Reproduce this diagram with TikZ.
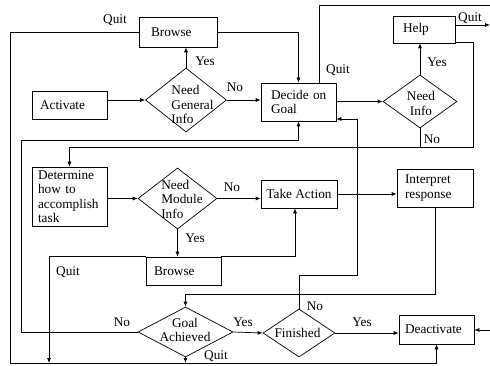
\documentclass[tikz,border=0pt]{standalone}
\usepackage{fontspec}
\setmainfont{Liberation Serif}
\usetikzlibrary{shapes.geometric,arrows.meta,calc}
\begin{document}
\begin{tikzpicture}[x=1pt,y=-1pt,
  every node/.style={font=\fontsize{13.3}{14.5}\selectfont},
  box/.style={draw, rectangle, inner ysep=0pt, align=left, line width=0.7pt},
  dia/.style={draw, diamond, inner sep=0pt, line width=0.7pt},
  dtext/.style={inner sep=0pt, font=\fontsize{13.3}{14.5}\selectfont},
  lbl/.style={inner sep=0pt},
  ln/.style={line width=0.7pt},
  arr/.style={line width=0.7pt, -{Latex[length=5pt,width=4pt]}}]
\useasboundingbox (0,0) rectangle (490,366);

% boxes
\node[box, text width=54pt, inner xsep=12pt, minimum height=30pt] (browseA) at (178,32) {Browse};
\node[box, text width=59pt, inner xsep=8pt, minimum height=28pt] (activate) at (69.5,105) {Activate};
\node[box, text width=59pt, inner xsep=8pt, minimum height=38pt] (decide) at (298.5,102) {\hspace*{2pt}Decide on\\\hspace*{2pt}Goal};
\node[box, text width=42pt, inner xsep=10pt, minimum height=27pt] (helpbox) at (424,29.5) {Help};
\node[box, text width=63pt, inner xsep=6pt, minimum height=59pt] (determine) at (69.5,196.5) {Determine\\how to\\accomplish\\task};
\node[box, align=center, minimum width=76pt, minimum height=28pt, inner xsep=2pt] (takeaction) at (299,194) {Take Action};
\node[box, text width=60pt, inner xsep=8pt, minimum height=38pt] (interpret) at (435,188) {Interpret\\response};
\node[box, text width=59pt, inner xsep=8pt, minimum height=28pt] (browseB) at (183.5,271) {Browse};
\node[box, text width=63pt, inner xsep=6pt, minimum height=29pt] (deactivate) at (436.5,329.5) {Deactivate};

% diamonds
\node[dia, minimum width=81pt, minimum height=64pt] (ng) at (186,100) {};
\node[dtext, align=left] (ngt) at (192.5,104.5) {Need\\General\\Info};
\node[dia, minimum width=74pt, minimum height=53pt] (ni) at (420,101.5) {};
\node[dtext, align=center] (nit) at (421,103.5) {Need\\Info};
\node[dia, minimum width=79pt, minimum height=61pt] (nm) at (177.5,198.5) {};
\node[dtext, align=left] (nmt) at (182,199) {Need\\Module\\Info};
\node[dia, minimum width=95pt, minimum height=50pt] (ga) at (185.5,332) {};
\node[dtext, align=center] (gat) at (185,330) {Goal\\Achieved};
\node[dia, minimum width=72pt, minimum height=48pt] (fin) at (299,333) {};
\node[dtext] (fint) at (297.5,333) {Finished};

% labels
\node[lbl] (l1) at (115,20) {Quit};
\node[lbl] (l2) at (205,61) {Yes};
\node[lbl] (l3) at (235,87) {No};
\node[lbl] (l4) at (338,70) {Quit};
\node[lbl] (l5) at (437,62) {Yes};
\node[lbl] (l6) at (470,18) {Quit};
\node[lbl] (l7) at (432,139) {No};
\node[lbl] (l8) at (232,187) {No};
\node[lbl] (l9) at (195,238) {Yes};
\node[lbl] (l10) at (68,272) {Quit};
\node[lbl] (l11) at (122,322) {No};
\node[lbl] (l12) at (243,322) {Yes};
\node[lbl] (l13) at (216,356) {Quit};
\node[lbl] (l14) at (315,306) {No};
\node[lbl] (l15) at (362,322) {Yes};

% helper coordinates
\coordinate (otl) at (10,32);
\coordinate (obl) at (10,363);
\coordinate (qx) at (319,0);
\coordinate (qtop) at (490,5);
\coordinate (helpq) at (490,25);
\coordinate (hr) at (473,42);
\coordinate (hb) at (473,147);
\coordinate (ilb) at (21,332);
\coordinate (ilt) at (21,140);
\coordinate (f1) at (357,275);
\coordinate (f2) at (357,119);
\coordinate (bq) at (49,363);
\coordinate (ta) at (295,0);
\coordinate (ir) at (0,294);
\coordinate (dr) at (490,330);

% connectors
\draw[arr] (browseA.west) -- (otl) -- (obl) -| (deactivate.south);
\draw[arr] (browseA.east) -| (decide.north);
\draw[arr] (ng.north) -- (ng.north |- browseA.south);
\draw[arr] (activate.east |- ng.west) -- (ng.west);
\draw[arr] (ng.east) -- (ng.east -| decide.west);
\draw[arr] (decide.east |- ni.west) -- (ni.west);
\draw[ln] (decide.north -| qx) -- ($(qx)+(0,5)$) -- (qtop);
\draw[arr] (ni.north) -- (ni.north |- helpbox.south);
\draw[arr] (helpbox.east |- helpq) -- (helpq);
\draw[arr] (helpbox.east |- hr) -- (hr) -- (hb) -| (determine.north);
\draw[ln] (ni.south) -- (ni.south |- hb);
\draw[arr] (ga.west) -- (ilb) -- (ilt) -| (decide.south);
\draw[arr] (fin.north) |- (f1) -- (f2) -- (f2 -| decide.east);
\draw[arr] (determine.east |- nm.west) -- (nm.west);
\draw[arr] (nm.east) -- (nm.east -| takeaction.west);
\draw[arr] (takeaction.east) -- (takeaction.east -| interpret.west);
\draw[arr] (nm.south) -- (nm.south |- browseB.north);
\draw[arr] (browseB.north west) -| (bq);
\draw[arr] (browseB.north east) -| (takeaction.south -| ta);
\draw[arr] (interpret.south) -- (interpret.south |- ir) -| (ga.north);
\draw[arr] (ga.south) -- (ga.south |- bq);
\draw[arr] (ga.east) -- (fin.west);
\draw[arr] (fin.east) -- (fin.east -| deactivate.west);
\draw[arr] (dr) -- (deactivate.east |- dr);
\end{tikzpicture}
\end{document}
